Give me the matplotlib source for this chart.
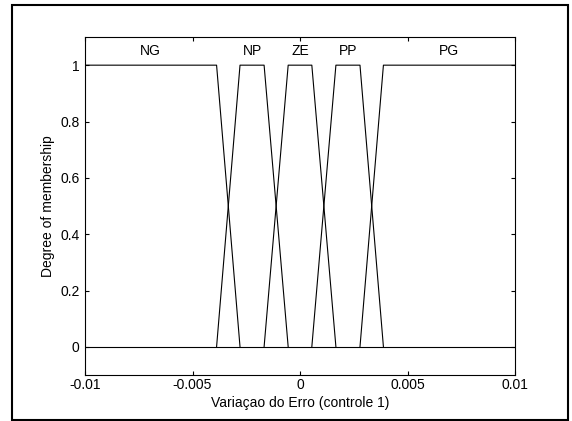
import matplotlib.pyplot as plt
from matplotlib.patches import Rectangle

plt.rcParams['font.family'] = ['Liberation Sans', 'DejaVu Sans']

# breakpoints of the trapezoidal membership functions
names = ["NG", "NP", "ZE", "PP", "PG"]
mf_x = [
    [-0.01, -0.00388, -0.00279],
    [-0.00388, -0.00279, -0.00167, -0.00055],
    [-0.00167, -0.00055, 0.00055, 0.00167],
    [0.00055, 0.00167, 0.00279, 0.00388],
    [0.00279, 0.00388, 0.01],
]
mf_y = [
    [1, 1, 0],
    [0, 1, 1, 0],
    [0, 1, 1, 0],
    [0, 1, 1, 0],
    [0, 1, 1],
]
label_x = [-0.00694, -0.00223, 0.0, 0.00223, 0.00694]
xticks = [-0.01, -0.005, 0, 0.005, 0.01]
xticklabels = ["-0.01", "-0.005", "0", "0.005", "0.01"]
yticks = [0, 0.2, 0.4, 0.6, 0.8, 1]
yticklabels = ["0", "0.2", "0.4", "0.6", "0.8", "1"]

fig = plt.figure(figsize=(5.72, 4.21), dpi=100)
ax = fig.add_axes([85/572, 46/421, 430/572, 338/421])

# baseline at zero across the whole universe
ax.plot([-0.01, 0.01], [0, 0], color='black', lw=0.8)
for xs, ys in zip(mf_x, mf_y):
    ax.plot(xs, ys, color='black', lw=0.8)
for n, lx in zip(names, label_x):
    ax.text(lx, 1.051, n, ha='center', va='center', fontsize=10)

ax.set_xlim(-0.01, 0.01)
ax.set_ylim(-0.1, 1.1)
ax.set_xticks(xticks)
ax.set_xticklabels(xticklabels)
ax.set_yticks(yticks)
ax.set_yticklabels(yticklabels)
ax.tick_params(direction='in', top=True, right=True, length=3, width=0.8,
               labelsize=10)
ax.tick_params(axis='x', pad=2)
ax.tick_params(axis='y', pad=4)
for s in ax.spines.values():
    s.set_linewidth(0.8)
ax.set_xlabel("Variaçao do Erro (controle 1)", fontsize=10, labelpad=3)
ax.set_ylabel("Degree of membership", fontsize=10, labelpad=4)

# outer frame around the figure
fig.patches.append(Rectangle((12/572, 1/421), 556/572, 415/421,
                             transform=fig.transFigure, fill=False,
                             edgecolor='black', lw=1.5))

fig.savefig("out.png", dpi=100)
